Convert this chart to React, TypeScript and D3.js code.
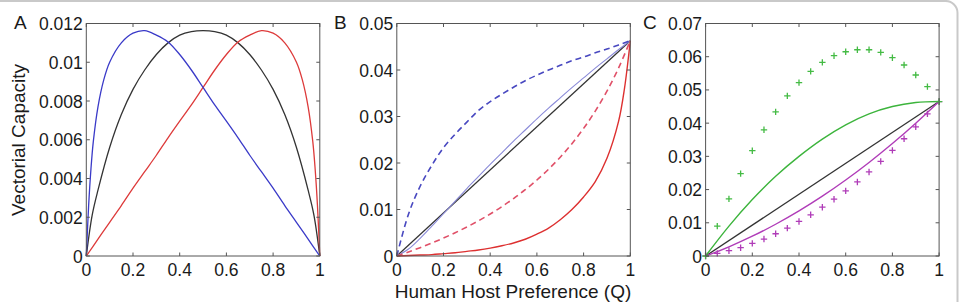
import React from "react";
import * as d3 from "d3";

// ---------- DATA ----------
const xTicks = [0, 0.2, 0.4, 0.6, 0.8, 1];
const xTickLabels = ["0", "0.2", "0.4", "0.6", "0.8", "1"];
const yTicksA = [0, 0.002, 0.004, 0.006, 0.008, 0.01, 0.012];
const yTickLabelsA = ["0", "0.002", "0.004", "0.006", "0.008", "0.01", "0.012"];
const yTicksB = [0, 0.01, 0.02, 0.03, 0.04, 0.05];
const yTickLabelsB = ["0", "0.01", "0.02", "0.03", "0.04", "0.05"];
const yTicksC = [0, 0.01, 0.02, 0.03, 0.04, 0.05, 0.06, 0.07];
const yTickLabelsC = ["0", "0.01", "0.02", "0.03", "0.04", "0.05", "0.06", "0.07"];

// Panel A
const qBlueA = [0, 0.01, 0.02, 0.03, 0.05, 0.075, 0.1, 0.15, 0.2, 0.25, 0.3, 0.35, 0.4, 0.45, 0.5, 0.55, 0.6, 0.65, 0.7, 0.75, 0.8, 0.85, 0.9, 0.95, 1];
const vBlueA = [0, 0.0026, 0.0045, 0.0059, 0.0077, 0.0091, 0.01, 0.011, 0.0115, 0.01163, 0.0114, 0.01105, 0.0104, 0.0096, 0.0087, 0.0078, 0.00696, 0.0061, 0.0052, 0.00435, 0.0035, 0.0026, 0.00174, 0.00087, 0];
const qRedA = [0, 0.05, 0.1, 0.15, 0.2, 0.25, 0.3, 0.35, 0.4, 0.45, 0.5, 0.55, 0.6, 0.65, 0.7, 0.75, 0.8, 0.85, 0.9, 0.925, 0.95, 0.97, 0.98, 0.99, 1];
const vRedA = [0, 0.00087, 0.00174, 0.0026, 0.0035, 0.00435, 0.0052, 0.0061, 0.00696, 0.0078, 0.0087, 0.0096, 0.0104, 0.01105, 0.0114, 0.01163, 0.0115, 0.011, 0.01, 0.0091, 0.0077, 0.0059, 0.0045, 0.0026, 0];
const qBlackA = [0, 0.025, 0.05, 0.1, 0.15, 0.2, 0.25, 0.3, 0.35, 0.4, 0.45, 0.5, 0.55, 0.6, 0.65, 0.7, 0.75, 0.8, 0.85, 0.9, 0.95, 0.975, 1];
const vBlackA = [0, 0.0021, 0.0034, 0.0056, 0.0073, 0.0086, 0.0096, 0.0104, 0.011, 0.0114, 0.01158, 0.01163, 0.01158, 0.0114, 0.011, 0.0104, 0.0096, 0.0086, 0.0073, 0.0056, 0.0034, 0.0021, 0];

// Panels B and C share the grid
const q21 = [0, 0.05, 0.1, 0.15, 0.2, 0.25, 0.3, 0.35, 0.4, 0.45, 0.5, 0.55, 0.6, 0.65, 0.7, 0.75, 0.8, 0.85, 0.9, 0.95, 1];
const q11 = [0, 0.1, 0.2, 0.3, 0.4, 0.5, 0.6, 0.7, 0.8, 0.9, 1];
const qEnds = [0, 1];

// Panel B
const vBlackB = [0, 0.0463];
const vBlueDashB = [0, 0.009, 0.015, 0.0195, 0.0233, 0.0262, 0.0288, 0.0313, 0.0332, 0.0348, 0.0363, 0.0377, 0.0389, 0.04, 0.041, 0.042, 0.0428, 0.0437, 0.0445, 0.0454, 0.0463];
const vBlueSolidB = [0, 0.0015, 0.0038, 0.0064, 0.0091, 0.0118, 0.0145, 0.0171, 0.0197, 0.0222, 0.0247, 0.0271, 0.0295, 0.0318, 0.034, 0.0362, 0.0383, 0.0404, 0.0424, 0.0444, 0.0463];
const vRedDashB = [0, 0.00087, 0.0018, 0.0028, 0.00386, 0.005, 0.00624, 0.00758, 0.00903, 0.01062, 0.01235, 0.01425, 0.01634, 0.01866, 0.02125, 0.02416, 0.02744, 0.03117, 0.03546, 0.04045, 0.0463];
const qRedSolidB = [0, 0.05, 0.1, 0.15, 0.2, 0.25, 0.3, 0.35, 0.4, 0.45, 0.5, 0.55, 0.6, 0.65, 0.7, 0.75, 0.8, 0.85, 0.9, 0.95, 0.975, 1];
const vRedSolidB = [0, 0.0001, 0.0002, 0.0003, 0.0005, 0.0007, 0.001, 0.0013, 0.0017, 0.0022, 0.0028, 0.0036, 0.0047, 0.006, 0.0078, 0.01, 0.0127, 0.016, 0.021, 0.029, 0.036, 0.0463];

// Panel C
const vBlackC = [0, 0.0465];
const vGreenLineC = [0, 0.009, 0.017, 0.024, 0.03, 0.0352, 0.0395, 0.0428, 0.045, 0.0462, 0.0465];
const vMagentaLineC = [0, 0.00277, 0.00595, 0.00956, 0.01358, 0.01802, 0.02288, 0.02816, 0.03385, 0.03997, 0.0465];
const vGreenPlusC = [0, 0.009, 0.0172, 0.0248, 0.0317, 0.038, 0.0434, 0.0482, 0.0522, 0.0556, 0.0583, 0.0603, 0.0615, 0.0621, 0.0621, 0.0613, 0.0597, 0.0575, 0.0545, 0.051, 0.0465];
const vMagentaPlusC = [0, 0.0008, 0.0016, 0.0025, 0.0038, 0.0051, 0.0067, 0.0084, 0.0104, 0.0124, 0.0147, 0.0171, 0.0196, 0.0223, 0.0253, 0.0285, 0.0318, 0.0353, 0.0389, 0.0428, 0.0465];

// ---------- LAYOUT ----------
const W = 959;
const H = 302;
const TOP = 23.5;
const BOTTOM = 256;
const PW = 233.5;
const FONT = "'Liberation Sans', Arial, Helvetica, sans-serif";
const AXIS = "#555";
const TXT = "#1a1a1a";
const TICKFS = 17.5;

type Series = {
  xs: number[];
  ys: number[];
  color: string;
  width?: number;
  dash?: string;
  markers?: boolean;
};

function Panel(props: {
  left: number;
  letter: string;
  letterX: number;
  yMax: number;
  yTicks: number[];
  yLabels: string[];
  series: Series[];
}) {
  const { left, letter, letterX, yMax, yTicks, yLabels, series } = props;
  const x = d3.scaleLinear().domain([0, 1]).range([left, left + PW]);
  const y = d3.scaleLinear().domain([0, yMax]).range([BOTTOM, TOP]);
  const tl = 3.5;
  return (
    <g>
      {series.map((s, i) => {
        const pts = s.xs.map((q, k) => [q, s.ys[k]] as [number, number]);
        if (s.markers) {
          return (
            <g key={i}>
              {pts.map((p, k) => (
                <path
                  key={k}
                  transform={`translate(${x(p[0])},${y(p[1])})`}
                  d="M-3.2,0H3.2M0,-3.2V3.2"
                  stroke={s.color}
                  strokeWidth={1.3}
                  fill="none"
                />
              ))}
            </g>
          );
        }
        const line = d3
          .line<[number, number]>()
          .x((d) => x(d[0]))
          .y((d) => y(d[1]))
          .curve(d3.curveCatmullRom.alpha(0.5));
        return (
          <path
            key={i}
            d={line(pts) || ""}
            fill="none"
            stroke={s.color}
            strokeWidth={s.width ?? 1.3}
            strokeDasharray={s.dash}
          />
        );
      })}
      <rect x={left} y={TOP} width={PW} height={BOTTOM - TOP} fill="none" stroke={AXIS} strokeWidth={1} />
      {xTicks.map((t, i) => (
        <g key={"xt" + i}>
          <line x1={x(t)} x2={x(t)} y1={BOTTOM} y2={BOTTOM - tl} stroke={AXIS} />
          <line x1={x(t)} x2={x(t)} y1={TOP} y2={TOP + tl} stroke={AXIS} />
          <text x={x(t)} y={BOTTOM + 20} textAnchor="middle" fontSize={TICKFS} fontFamily={FONT} fill={TXT}>
            {xTickLabels[i]}
          </text>
        </g>
      ))}
      {yTicks.map((t, i) => (
        <g key={"yt" + i}>
          <line x1={left} x2={left + tl} y1={y(t)} y2={y(t)} stroke={AXIS} />
          <line x1={left + PW} x2={left + PW - tl} y1={y(t)} y2={y(t)} stroke={AXIS} />
          <text x={left - 3.5} y={y(t) + 6.5} textAnchor="end" fontSize={TICKFS} fontFamily={FONT} fill={TXT}>
            {yLabels[i]}
          </text>
        </g>
      ))}
      <text x={letterX} y={29} fontSize={19} fontFamily={FONT} fill={TXT}>
        {letter}
      </text>
    </g>
  );
}

export default function App() {
  const lefts = [86.3, 396.8, 705.6];
  return (
    <svg width={W} height={H} style={{ position: "absolute", left: 0, top: 0, background: "#fff" }}>
      <rect x={0} y={0} width={W} height={H} fill="#fff" />
      <path d="M0,1 H945 A12,12 0 0 1 957.5,13.5 V302" fill="none" stroke="#c9c9c9" strokeWidth={2} />
      <Panel
        left={lefts[0]}
        letter="A"
        letterX={14}
        yMax={0.012}
        yTicks={yTicksA}
        yLabels={yTickLabelsA}
        series={[
          { xs: qBlackA, ys: vBlackA, color: "#333333" },
          { xs: qRedA, ys: vRedA, color: "#dd3a3a" },
          { xs: qBlueA, ys: vBlueA, color: "#3a3ac8" },
        ]}
      />
      <Panel
        left={lefts[1]}
        letter="B"
        letterX={334}
        yMax={0.05}
        yTicks={yTicksB}
        yLabels={yTickLabelsB}
        series={[
          { xs: qEnds, ys: vBlackB, color: "#333333", width: 1.3 },
          { xs: q21, ys: vBlueSolidB, color: "#8a8ad8", width: 1.1 },
          { xs: q21, ys: vBlueDashB, color: "#4848c0", width: 1.6, dash: "6,4" },
          { xs: q21, ys: vRedDashB, color: "#e05068", width: 1.6, dash: "6,4" },
          { xs: qRedSolidB, ys: vRedSolidB, color: "#dd3030", width: 1.4 },
        ]}
      />
      <Panel
        left={lefts[2]}
        letter="C"
        letterX={643}
        yMax={0.07}
        yTicks={yTicksC}
        yLabels={yTickLabelsC}
        series={[
          { xs: qEnds, ys: vBlackC, color: "#333333" },
          { xs: q11, ys: vMagentaLineC, color: "#b03cb8", width: 1.4 },
          { xs: q11, ys: vGreenLineC, color: "#3cb43c", width: 1.4 },
          { xs: q21, ys: vMagentaPlusC, color: "#b03cb8", markers: true },
          { xs: q21, ys: vGreenPlusC, color: "#44bb44", markers: true },
        ]}
      />
      <text
        transform="translate(25,140) rotate(-90)"
        textAnchor="middle"
        fontSize={19}
        fontFamily={FONT}
        fill={TXT}
      >
        Vectorial Capacity
      </text>
      <text x={513} y={297.5} textAnchor="middle" fontSize={19} fontFamily={FONT} fill={TXT}>
        Human Host Preference (Q)
      </text>
    </svg>
  );
}
